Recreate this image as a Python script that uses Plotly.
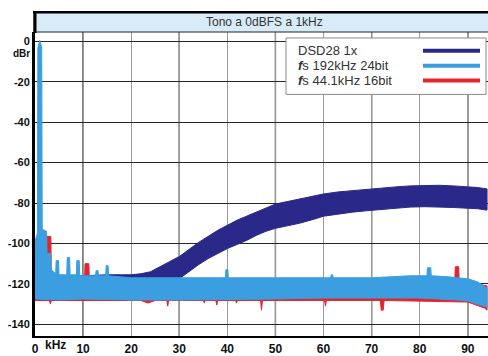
import plotly.graph_objects as go

# ---------------- data ----------------
# DSD28 1x  : noise band, upper / lower envelope (kHz, dBr)
dsd_f  = [0, 5, 10, 15, 20, 22, 24, 26, 28, 30, 32, 34, 36, 38, 40, 42, 44, 46, 48,
          50, 52, 55, 58, 60, 63, 66, 69, 72, 75, 78, 81, 84, 87, 90, 92, 94]
dsd_hi = [-117, -116.5, -116, -115.5, -115.5, -115, -114, -111.5, -109, -106.5, -103,
          -99.5, -96.5, -93.5, -91, -88.5, -86.5, -84.5, -82.5, -80.5, -79.5, -78,
          -76.5, -75.5, -74.5, -73.8, -73.2, -72.5, -72, -71.5, -71.3, -71.2, -71.5,
          -71.8, -72.3, -73]
dsd_lo = [-128, -128, -128, -128, -128, -127.5, -126, -123.5, -120.5, -117.5, -114,
          -110.5, -107.5, -105, -102.5, -100.5, -98.5, -96, -94, -92.5, -91.5, -90,
          -88, -86.5, -85.5, -84.5, -83.8, -83, -82.5, -82, -81.8, -82, -82.2, -82.5,
          -82.8, -83.5]

# fs 192kHz 24bit : upper envelope (with 1 kHz tone and spurs) and lower envelope
hr_f_hi = [0, 0.5, 0.6, 1.0, 1.4, 1.5, 2.4, 2.5, 3.3, 3.4, 4.3, 4.4, 4.9, 5.0, 6.6,
           6.7, 7.2, 7.3, 8.6, 8.7, 9.2, 9.3, 12.6, 12.7, 13.1, 13.2, 14.7, 14.8, 15.2,
           15.3, 20, 30, 39.6, 39.7, 40.1, 40.2, 50, 61.5, 61.6, 61.9, 62, 70, 78,
           81.5, 81.6, 82.3, 82.4, 86, 90, 92, 94]
hr_hi   = [-99, -95, -3, 0.5, -3, -93, -94, -105, -105, -113, -115, -108.5, -108.5,
           -115.5, -115.5, -107, -107, -115.5, -115.5, -108.5, -108.5, -116, -116,
           -113.5, -113.5, -116, -116, -111, -111, -116, -117, -117, -117, -113, -113,
           -117, -117, -117, -115.5, -115.5, -117, -117, -116, -116, -112, -112, -116,
           -116.5, -117.5, -119, -122]
hr_f_lo = [0, 5, 10, 20, 30, 40, 50, 60, 70, 80, 85, 88, 90, 92, 94]
hr_lo   = [-127.5, -128, -127.5, -128, -128, -127.8, -127.5, -127, -127, -127, -127.5,
           -128, -128.5, -130, -131.5]

# fs 44.1kHz 16bit : upper envelope (spurs) and lower envelope (dips)
cd_f_hi = [0, 2.4, 2.5, 3.3, 3.4, 10.3, 10.4, 11.2, 11.3, 87.3, 87.4, 88.1, 88.2, 94]
cd_hi   = [-118, -118, -96.5, -96.5, -118, -118, -110, -110, -118, -118, -111.5,
           -111.5, -118, -121]
cd_f_lo = [0, 3.0, 3.2, 3.4, 22, 23.5, 25, 27.4, 27.6, 27.8, 35.0, 35.2, 35.4, 37.6,
           37.8, 38.0, 41.7, 41.9, 42.1, 46.9, 47.1, 47.3, 60.2, 60.4, 60.6, 71.8,
           72.0, 72.4, 72.6, 90, 93.5, 94]
cd_lo   = [-128.2, -128.2, -130, -128.2, -128.2, -129.5, -128.2, -128.2, -131, -128.2,
           -128.2, -129.5, -128.2, -128.2, -130.5, -128.2, -128.2, -129.5, -128.2,
           -128.2, -133, -128.2, -128.2, -131, -128.2, -128.2, -133, -133, -128.2,
           -129, -132, -133]

series_names = ["DSD28 1x", "<b><i>f</i></b>s 192kHz 24bit", "<b><i>f</i></b>s 44.1kHz 16bit"]
series_colors = ["#2a2888", "#3a9ee0", "#e3252e"]

x_ticks = [0, 10, 20, 30, 40, 50, 60, 70, 80, 90]
x_ticks_dark = [10, 30, 50, 70, 90]
y_ticks = [0, -20, -40, -60, -80, -100, -120, -140]
title_text = "Tono a 0dBFS a 1kHz"

# ---------------- layout helpers ----------------
W, H = 488, 356
L, R, T, B = 35, 488, 32, 339


def px_x(p):
    return (p - L) / (R - L)


def px_y(p):
    return (B - p) / (B - T)


def band(fh, hi, fl, lo):
    return list(fh) + list(fl[::-1]), list(hi) + list(lo[::-1])


fig = go.Figure()
bands = [(dsd_f, dsd_hi, dsd_f, dsd_lo, series_colors[0]),
         (cd_f_hi, cd_hi, cd_f_lo, cd_lo, series_colors[2]),
         (hr_f_hi, hr_hi, hr_f_lo, hr_lo, series_colors[1])]
for fh, hi, fl, lo, col in bands:
    xs, ys = band(fh, hi, fl, lo)
    fig.add_trace(go.Scatter(x=xs, y=ys, mode="lines", fill="toself",
                             line=dict(color=col, width=1), fillcolor=col,
                             showlegend=False, hoverinfo="skip"))

font = "Liberation Sans, Arial, sans-serif"
fig.update_layout(
    width=W, height=H,
    margin=dict(l=L, r=W - R, t=T, b=H - B),
    paper_bgcolor="white", plot_bgcolor="white",
    showlegend=False,
    xaxis=dict(range=[0, 94.2], tickvals=x_ticks, ticktext=[str(v) for v in x_ticks],
               showgrid=True, gridcolor="#9a9a9a", gridwidth=1.3, zeroline=False,
               showline=True, linecolor="black", linewidth=2, ticks="",
               tickfont=dict(family=font, size=12, color="#111", weight="bold"),
               ticklabelstandoff=1),
    yaxis=dict(range=[-145.8, 4.66], tickvals=y_ticks, ticktext=[str(v) for v in y_ticks],
               showgrid=True, gridcolor="#262626", gridwidth=1.3, zeroline=False,
               showline=True, linecolor="black", linewidth=3, ticks="",
               tickfont=dict(family=font, size=11, color="#111", weight="bold")),
)

shapes = []
# darker grid lines at the odd decades (drawn below the data)
for xv in x_ticks_dark:
    shapes.append(dict(type="line", xref="x", yref="paper", x0=xv, x1=xv, y0=0, y1=1,
                       layer="below", line=dict(color="#1e1e1e", width=1.3)))
# title strip
shapes.append(dict(type="rect", xref="paper", yref="paper",
                   x0=px_x(34), x1=px_x(520), y0=px_y(32), y1=px_y(12),
                   fillcolor="#d8ebf9", line=dict(color="#222", width=1)))
shapes.append(dict(type="line", xref="paper", yref="paper",
                   x0=px_x(33), x1=px_x(520), y0=px_y(12), y1=px_y(12),
                   line=dict(color="black", width=2.5)))
shapes.append(dict(type="line", xref="paper", yref="paper",
                   x0=px_x(35), x1=px_x(35), y0=px_y(11), y1=px_y(33),
                   line=dict(color="black", width=3)))
# legend box
shapes.append(dict(type="rect", xref="paper", yref="paper",
                   x0=px_x(286), x1=px_x(486), y0=px_y(95), y1=px_y(38),
                   fillcolor="white", line=dict(color="#8a8a8a", width=1)))
leg_rows = [51, 66, 81]
for name, col, yy in zip(series_names, series_colors, leg_rows):
    shapes.append(dict(type="line", xref="paper", yref="paper",
                       x0=px_x(423), x1=px_x(480), y0=px_y(yy), y1=px_y(yy),
                       line=dict(color=col, width=4)))
fig.update_layout(shapes=shapes)

ann = [
    dict(text=title_text, xref="paper", yref="paper", x=px_x(264), y=px_y(22),
         showarrow=False, font=dict(family=font, size=12, color="#333"),
         xanchor="center", yanchor="middle"),
    dict(text="<b>dBr</b>", xref="paper", yref="paper", x=px_x(32), y=px_y(54),
         showarrow=False, font=dict(family=font, size=10, color="#111"),
         xanchor="right", yanchor="middle"),
    dict(text="<b>kHz</b>", xref="paper", yref="paper", x=px_x(55), y=px_y(348),
         showarrow=False, font=dict(family=font, size=12, color="#111"),
         xanchor="center", yanchor="middle"),
]
for name, yy in zip(series_names, leg_rows):
    ann.append(dict(text=name, xref="paper", yref="paper", x=px_x(296), y=px_y(yy),
                    showarrow=False, font=dict(family=font, size=13, color="#333"),
                    xanchor="left", yanchor="middle"))
fig.update_layout(annotations=ann)

fig.write_html("out.html", config={"displayModeBar": False})
